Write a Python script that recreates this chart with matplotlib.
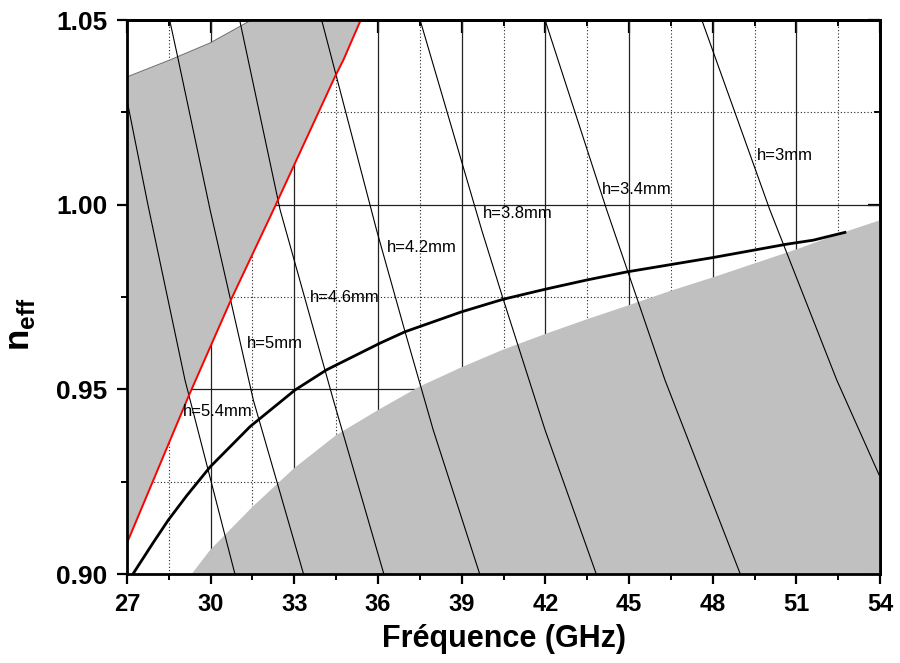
import matplotlib
matplotlib.use("Agg")
import matplotlib.pyplot as plt
from matplotlib.ticker import MultipleLocator, FormatStrFormatter

plt.rcParams['font.family'] = ['Liberation Sans', 'DejaVu Sans']
plt.rcParams['mathtext.fontset'] = 'custom'
plt.rcParams['mathtext.bf'] = 'Liberation Sans:bold'
plt.rcParams['mathtext.rm'] = 'Liberation Sans'

# upper-left shaded zone: red boundary and upper curve
red_x = [27.0, 29.2, 30.75, 32.25, 34.46, 34.76, 35.38]
red_y = [0.9084, 0.948, 0.9746, 0.9986, 1.0347, 1.0392, 1.05]
top_x = [27.0, 28.54, 29.98, 31.34, 31.5]
top_y = [1.0346, 1.0392, 1.0438, 1.0495, 1.05]

# lower-right shaded zone boundary
low_x = [29.32, 29.98, 31.5, 33.0, 34.5, 36.0, 37.5, 39.0, 40.5, 42.0, 43.5, 45.0,
         46.5, 48.0, 49.5, 51.0, 52.5, 54.0]
low_y = [0.900, 0.9065, 0.9182, 0.9287, 0.9376, 0.9444, 0.9508, 0.9560, 0.9608, 0.9650,
         0.9690, 0.9728, 0.9767, 0.9803, 0.9841, 0.9879, 0.9920, 0.9958]

# thick black dispersion curve
curve_x = [27.23, 27.94, 28.48, 29.14, 29.98, 31.41, 33.02, 34.16, 36.07, 36.97, 39.00,
           40.49, 41.99, 43.48, 44.92, 48.02, 50.65, 51.61, 52.74]
curve_y = [0.9002, 0.9085, 0.9146, 0.9212, 0.9290, 0.9399, 0.9498, 0.9553, 0.9625, 0.9656,
           0.9710, 0.9744, 0.9771, 0.9796, 0.9818, 0.9857, 0.9893, 0.9904, 0.9925]

# constant-h lines
h_labels = ['h=5.4mm', 'h=5mm', 'h=4.6mm', 'h=4.2mm', 'h=3.8mm', 'h=3.4mm', 'h=3mm']
h_x = [
    [27.0, 27.75, 29.08, 30.87],
    [28.53, 28.84, 29.98, 31.53, 33.33],
    [31.04, 32.49, 34.40, 36.21],
    [33.98, 35.95, 36.97, 37.98, 39.66],
    [37.51, 39.72, 40.49, 41.99, 43.84],
    [41.99, 44.20, 46.29, 48.98],
    [47.61, 50.05, 52.45, 53.97],
]
h_y = [
    [1.0283, 1.0, 0.9525, 0.90],
    [1.05, 1.0392, 0.9986, 0.9471, 0.90],
    [1.05, 0.9986, 0.9471, 0.90],
    [1.05, 0.9931, 0.9656, 0.9390, 0.8997],
    [1.05, 0.9931, 0.9744, 0.9390, 0.8997],
    [1.05, 0.9986, 0.9525, 0.9002],
    [1.05, 0.9986, 0.9525, 0.9268],
]
lab_x = [29.01, 31.30, 33.56, 36.32, 39.76, 44.03, 49.59]
lab_y = [0.9439, 0.9623, 0.9750, 0.9883, 0.9975, 1.0040, 1.0132]

fig = plt.figure(figsize=(9, 6.63), dpi=100)
ax = fig.add_axes([0.1411, 0.1342, 0.8367, 0.8356])

ax.set_xlim(27, 54)
ax.set_ylim(0.90, 1.05)

ax.set_axisbelow(True)
ax.xaxis.set_major_locator(MultipleLocator(3))
ax.xaxis.set_minor_locator(MultipleLocator(1.5))
ax.yaxis.set_major_locator(MultipleLocator(0.05))
ax.yaxis.set_minor_locator(MultipleLocator(0.025))
ax.yaxis.set_major_formatter(FormatStrFormatter('%.2f'))
ax.grid(which='major', ls='-', color='#222222', lw=0.9)
ax.grid(which='minor', ls=(0, (1, 2)), color='#222222', lw=0.8)

# shaded zones
poly_x = red_x + top_x[::-1]
poly_y = red_y + top_y[::-1]
ax.fill(poly_x, poly_y, color='#c0c0c0', lw=0, zorder=1)
ax.plot(top_x, top_y, color='#707070', lw=0.7, zorder=1.1)
ax.fill(low_x + [54.0, 29.32], low_y + [0.90, 0.90], color='#c0c0c0', lw=0, zorder=1)

for xs, ys in zip(h_x, h_y):
    ax.plot(xs, ys, color='black', lw=0.8, zorder=2)
for s, x, y in zip(h_labels, lab_x, lab_y):
    ax.text(x, y, s, ha='left', va='center', fontsize=12, zorder=4)

ax.plot(red_x, red_y, color='red', lw=1.4, zorder=3)
ax.plot(curve_x, curve_y, color='black', lw=2.0, zorder=3)

for sp in ax.spines.values():
    sp.set_linewidth(2)
    sp.set_zorder(5)

ax.tick_params(which='major', direction='out', length=7, width=1.6, pad=7)
ax.tick_params(which='minor', direction='out', length=4, width=1.4)
ax.tick_params(axis='x', labelsize=17)
ax.tick_params(axis='y', labelsize=19)
for lab in ax.get_xticklabels() + ax.get_yticklabels():
    lab.set_fontweight('bold')

# inward ticks on top and right
top = ax.secondary_xaxis('top')
top.xaxis.set_major_locator(MultipleLocator(3))
top.xaxis.set_minor_locator(MultipleLocator(1.5))
top.tick_params(which='major', direction='in', length=9, width=1.6, labeltop=False)
top.tick_params(which='minor', direction='in', length=4, width=1.4)
top.spines['top'].set_linewidth(2)
right = ax.secondary_yaxis('right')
right.yaxis.set_major_locator(MultipleLocator(0.05))
right.yaxis.set_minor_locator(MultipleLocator(0.025))
right.tick_params(which='major', direction='in', length=9, width=1.6, labelright=False)
right.tick_params(which='minor', direction='in', length=4, width=1.4)
right.spines['right'].set_linewidth(2)

ax.set_xlabel('Fréquence (GHz)', fontsize=22, fontweight='bold')
ax.xaxis.set_label_coords(0.5, -0.09)
ax.set_ylabel(r'$\mathbf{n}_{\mathbf{eff}}$', fontsize=25)
ax.yaxis.set_label_coords(-0.12, 0.45)

fig.savefig('out.png', dpi=100)
